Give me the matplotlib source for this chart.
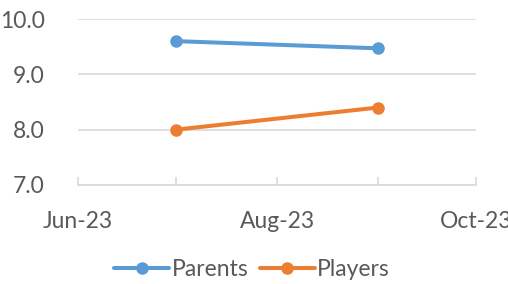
import matplotlib
matplotlib.use("Agg")
import matplotlib.pyplot as plt
import matplotlib.dates as mdates
from matplotlib.ticker import FormatStrFormatter
import datetime as dt

dates = [dt.date(2023, 7, 1), dt.date(2023, 9, 1)]
parents = [9.6, 9.47]
players = [8.0, 8.4]
series_names = ["Parents", "Players"]

plt.rcParams['font.family'] = ['Lato', 'DejaVu Sans']
txt = '#595959'
grid = '#D9D9D9'
fs = 16.5

fig = plt.figure(figsize=(5.08, 2.84), dpi=100)
ax = fig.add_axes([78/508, 1-185/284, (476-78)/508, (185-19)/284])

ax.plot(dates, parents, color='#5B9BD5', lw=2.9, marker='o', ms=8, label=series_names[0], solid_capstyle='round')
ax.plot(dates, players, color='#ED7D31', lw=2.9, marker='o', ms=8, label=series_names[1], solid_capstyle='round')

ax.set_ylim(7, 10)
ax.set_yticks([7, 8, 9, 10])
ax.yaxis.set_major_formatter(FormatStrFormatter('%.1f'))
ax.set_xlim(dt.date(2023, 6, 1), dt.date(2023, 10, 1))
ax.xaxis.set_major_locator(mdates.MonthLocator(bymonth=[6, 8, 10]))
ax.xaxis.set_minor_locator(mdates.MonthLocator())
ax.xaxis.set_major_formatter(mdates.DateFormatter('%b-%y'))

ax.grid(axis='y', color=grid, lw=1.2)
ax.set_axisbelow(True)
for s in ['top', 'right', 'left']:
    ax.spines[s].set_visible(False)
ax.spines['bottom'].set_color(grid)
ax.spines['bottom'].set_linewidth(1.2)
ax.tick_params(axis='y', length=0, pad=24, labelsize=fs, labelcolor=txt)
ax.tick_params(axis='x', which='both', direction='in', length=6, color=grid, width=1.2,
               pad=19, labelsize=fs, labelcolor=txt)

leg = fig.legend(loc='center', bbox_to_anchor=(252/508, 1-270/284), ncol=2, frameon=False,
                 fontsize=fs, handlelength=2.4, columnspacing=0.5, handletextpad=0.1)
for t in leg.get_texts():
    t.set_color(txt)

fig.savefig('out.png', dpi=100)
